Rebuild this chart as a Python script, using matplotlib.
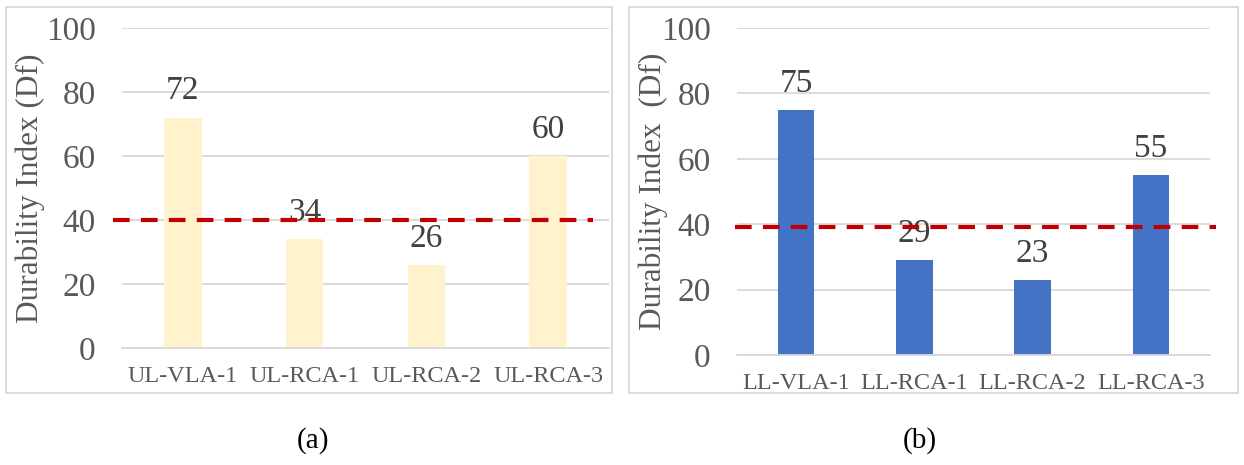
import matplotlib.pyplot as plt
from matplotlib.patches import Rectangle

# =========================
# DATOS
# =========================

labels_a = ["UL-VLA-1", "UL-RCA-1", "UL-RCA-2", "UL-RCA-3"]
values_a = [72, 34, 26, 60]
threshold_a = 40

labels_b = ["LL-VLA-1", "LL-RCA-1", "LL-RCA-2", "LL-RCA-3"]
values_b = [75, 29, 23, 55]
threshold_b = 39

yticks = [0, 20, 40, 60, 80, 100]

# =========================
# ESTILO
# =========================

plt.rcParams["font.family"] = ["Liberation Serif", "DejaVu Serif"]

TICK_GRAY = "#595959"
VALUE_GRAY = "#404040"
GRID_GRAY = "#d9d9d9"
RED = "#C00000"

W, H = 1244, 465
fig = plt.figure(figsize=(W / 100, H / 100), dpi=100)


def px_axes(left, right, top, bottom):
    return [left / W, 1 - bottom / H, (right - left) / W, (bottom - top) / H]


def draw_panel(ax, labels, values, threshold, color, ylabel, line_ext, ylab_x):
    x = range(len(labels))
    bars = ax.bar(x, values, width=0.31, color=color, zorder=2)
    ax.set_xlim(-0.5, len(labels) - 0.5)
    ax.set_ylim(0, 100)
    ax.set_yticks(yticks)
    ax.set_xticks(list(x))
    ax.set_xticklabels(labels, fontsize=17.5, color=TICK_GRAY)
    ax.tick_params(axis="y", labelsize=24, labelcolor=TICK_GRAY, length=0, pad=19)
    ax.tick_params(axis="x", length=0, pad=13)
    ax.grid(axis="y", color=GRID_GRAY, linewidth=1.3, zorder=0)
    for s in ax.spines.values():
        s.set_visible(False)
    ax.spines["bottom"].set_visible(True)
    ax.spines["bottom"].set_color(GRID_GRAY)
    ax.spines["bottom"].set_linewidth(1.3)

    for b, v in zip(bars, values):
        ax.annotate(str(v), (b.get_x() + b.get_width() / 2, v),
                    xytext=(0, 8), textcoords="offset points",
                    ha="center", va="bottom", fontsize=24, color=VALUE_GRAY, zorder=3)

    ax.axhline(threshold, xmin=line_ext[0], xmax=line_ext[1], color=RED,
               linewidth=3, linestyle=(0, (4, 2.7)), clip_on=False, zorder=4)

    ax.set_ylabel(ylabel, fontsize=22.5, color=TICK_GRAY)
    ax.yaxis.set_label_coords(ylab_x, 0.5)


ax_a = fig.add_axes(px_axes(122, 609, 28, 348))
draw_panel(ax_a, labels_a, values_a, threshold_a, "#FFF2CC",
           "Durability Index (Df)", (-0.018, 0.967), -0.158)

ax_b = fig.add_axes(px_axes(737, 1210, 28, 355))
draw_panel(ax_b, labels_b, values_b, threshold_b, "#4472C4",
           "Durability Index  (Df)", (-0.004, 1.013), -0.146)

# marcos de cada panel
for (x0, x1) in [(6, 612), (629, 1238)]:
    fig.add_artist(Rectangle((x0 / W, 1 - 393 / H), (x1 - x0) / W, (393 - 7) / H,
                             transform=fig.transFigure, fill=False,
                             edgecolor=GRID_GRAY, linewidth=1.3))

fig.text(313 / W, 1 - 441 / H, "(a)", ha="center", va="center", fontsize=21)
fig.text(920 / W, 1 - 441 / H, "(b)", ha="center", va="center", fontsize=21)

fig.savefig("out.png", dpi=100)
